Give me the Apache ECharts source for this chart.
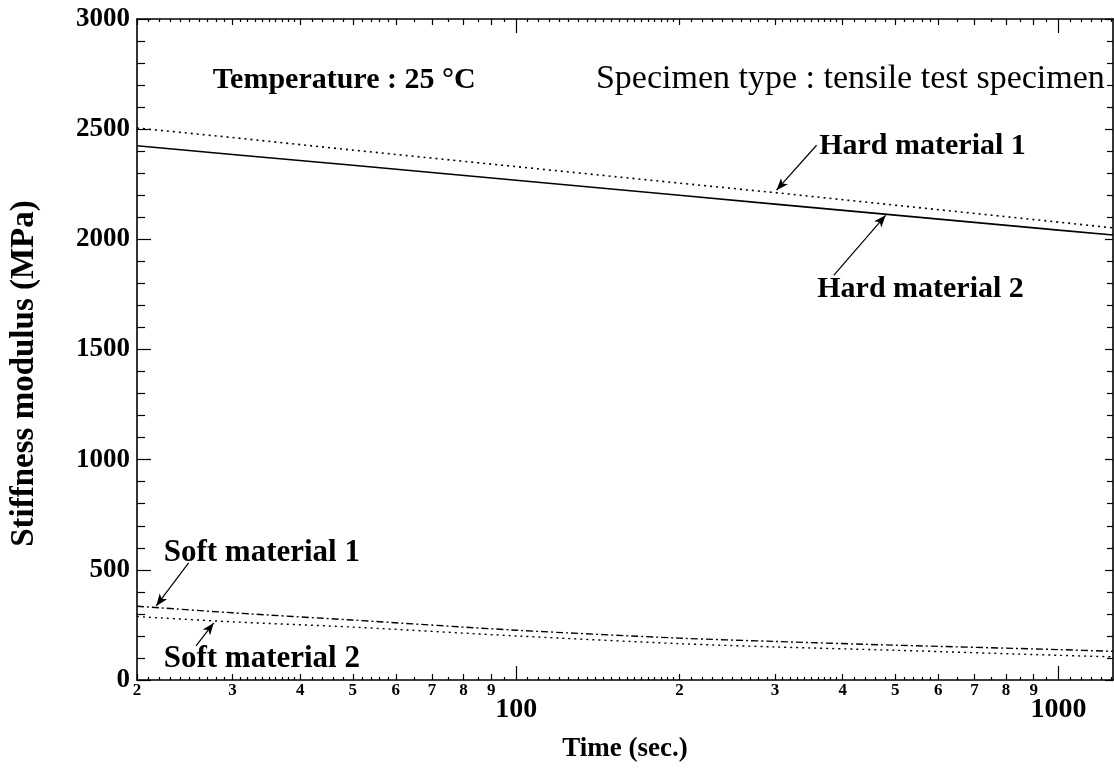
<!DOCTYPE html>
<html><head><meta charset="utf-8">
<script src="https://cdn.jsdelivr.net/npm/echarts@6/dist/echarts.min.js"></script>
<style>html,body{margin:0;padding:0;background:#fff}#c{width:1114px;height:770px}</style>
</head><body><div id="c"></div>
<script>
// ---- data ----
const times = [20, 30, 50, 100, 200, 300, 500, 1000, 1260];
const hard1 = [2505, 2462, 2405, 2330, 2255, 2212, 2155, 2078, 2052];
const hard2 = [2425, 2385, 2336, 2268, 2200, 2160, 2110, 2042, 2020];
const soft1 = [335, 305, 272, 226, 190, 175, 158, 138, 130];
const soft2 = [288, 264, 240, 200, 165, 150, 135, 112, 105];
const seriesNames = ['Hard material 1', 'Hard material 2', 'Soft material 1', 'Soft material 2'];
const digitTicks = [20, 30, 40, 50, 60, 70, 80, 90, 200, 300, 400, 500, 600, 700, 800, 900];
const decadeTicks = [100, 1000];
const minorRanges = [[20, 40, 1], [40, 60, 2], [60, 100, 5], [100, 200, 5], [200, 400, 10], [400, 600, 20], [600, 1000, 50], [1000, 1260, 50]];
const yTickLabels = [0, 500, 1000, 1500, 2000, 2500, 3000];
const xMin = 20, xMax = 1260;

const FONT = "'Liberation Serif','Times New Roman',serif";
const L = Math.log10;
const minorTicks = [];
minorRanges.forEach(([a, b, s]) => {
  for (let v = a + s; v < b; v += s) {
    if (digitTicks.indexOf(v) < 0 && decadeTicks.indexOf(v) < 0) minorTicks.push(v);
  }
});

function tickAxis(pos, values, len, label) {
  return {
    type: 'value', position: pos, gridIndex: 0, min: L(xMin), max: L(xMax),
    axisLine: { show: false }, splitLine: { show: false },
    axisTick: { show: true, inside: true, length: len, customValues: values.map(L),
      lineStyle: { color: '#000', width: 1.2 } },
    axisLabel: label ? Object.assign({ show: true, customValues: values.map(L),
      color: '#000', fontFamily: FONT, fontWeight: 'bold' }, label) : { show: false }
  };
}

const xAxes = [
  { type: 'log', logBase: 10, position: 'bottom', min: xMin, max: xMax,
    axisLine: { show: true, onZero: false, lineStyle: { color: '#000', width: 1.6 } },
    axisTick: { show: false }, axisLabel: { show: false }, splitLine: { show: false },
    name: 'Time (sec.)', nameLocation: 'middle', nameGap: 56,
    nameTextStyle: { fontFamily: FONT, fontWeight: 'bold', fontSize: 27, color: '#000' } },
  tickAxis('bottom', minorTicks, 3, null),
  tickAxis('bottom', digitTicks, 6, { fontSize: 17, margin: 2,
    formatter: v => String(Math.round(Math.pow(10, v) / Math.pow(10, Math.floor(v + 1e-9)))) }),
  tickAxis('bottom', decadeTicks, 14, { fontSize: 28, margin: 16,
    formatter: v => String(Math.round(Math.pow(10, v))) }),
  Object.assign(tickAxis('top', minorTicks, 3, null),
    { axisLine: { show: true, onZero: false, lineStyle: { color: '#000', width: 1.6 } } }),
  tickAxis('top', digitTicks, 6, null),
  tickAxis('top', decadeTicks, 14, null)
];

const yAxes = [
  { type: 'value', position: 'left', min: 0, max: 3000, interval: 500,
    axisLine: { show: true, onZero: false, lineStyle: { color: '#000', width: 1.6 } },
    axisTick: { show: true, inside: true, length: 14, lineStyle: { color: '#000', width: 1.2 } },
    minorTick: { show: true, splitNumber: 5, length: 8, lineStyle: { color: '#000', width: 1.2 } },
    splitLine: { show: false },
    axisLabel: { color: '#000', fontFamily: FONT, fontWeight: 'bold', fontSize: 27, margin: 7,
      customValues: yTickLabels, formatter: v => String(v) },
    name: 'Stiffness modulus (MPa)', nameLocation: 'middle', nameGap: 96, nameRotate: 90,
    nameTextStyle: { fontFamily: FONT, fontWeight: 'bold', fontSize: 33, color: '#000',
      padding: [0, 48, 0, 0] } },
  { type: 'value', position: 'right', min: 0, max: 3000, interval: 500,
    axisLine: { show: true, onZero: false, lineStyle: { color: '#000', width: 1.6 } },
    axisTick: { show: true, inside: true, length: 8, lineStyle: { color: '#000', width: 1.2 } },
    minorTick: { show: true, splitNumber: 5, length: 6, lineStyle: { color: '#000', width: 1.2 } },
    splitLine: { show: false }, axisLabel: { show: false } }
];

function txt(coord, text, align, size, weight) {
  return { coord: coord, value: text, symbol: 'circle', symbolSize: 0,
    label: { show: true, position: 'inside', formatter: text, align: align, verticalAlign: 'middle',
      fontSize: size, fontWeight: weight, fontFamily: FONT, color: '#000' } };
}
function arrow(from, to) {
  return [{ coord: from }, { coord: to }];
}

const pair = arr => times.map((t, i) => [t, arr[i]]);

const option = {
  animation: false,
  backgroundColor: '#fff',
  grid: { left: 137, right: 1, top: 19, bottom: 90, containLabel: false },
  xAxis: xAxes,
  yAxis: yAxes,
  series: [
    { name: seriesNames[0], type: 'line', xAxisIndex: 0, yAxisIndex: 0, data: pair(hard1), symbol: 'none',
      lineStyle: { color: '#000', width: 1.6, type: [2, 4] } },
    { name: seriesNames[1], type: 'line', xAxisIndex: 0, yAxisIndex: 0, data: pair(hard2), symbol: 'none',
      lineStyle: { color: '#000', width: 1.6, type: 'solid' },
      markLine: { silent: true, symbol: ['none', 'arrow'], symbolSize: [7, 12], label: { show: false },
        lineStyle: { color: '#000', width: 1.2, type: 'solid' },
        data: [
          arrow([358, 2427], [302, 2223]),
          arrow([385, 1836], [480, 2109]),
          arrow([24.9, 532], [21.7, 336]),
          arrow([25.7, 155], [27.7, 259])
        ] },
      markPoint: { silent: true, data: [
        txt([48.2, 2723], 'Temperature : 25 °C', 'center', 30, 'bold'),
        txt([1217, 2727], 'Specimen type : tensile test specimen', 'right', 34, 'normal'),
        txt([362, 2423], seriesNames[0], 'left', 30, 'bold'),
        txt([359, 1773], seriesNames[1], 'left', 30, 'bold'),
        txt([22.4, 577], seriesNames[2], 'left', 31, 'bold'),
        txt([22.4, 95], seriesNames[3], 'left', 31, 'bold')
      ] } },
    { name: seriesNames[2], type: 'line', xAxisIndex: 0, yAxisIndex: 0, data: pair(soft1), symbol: 'none', smooth: 0.3,
      lineStyle: { color: '#000', width: 1.4, type: [7, 3, 2, 3] } },
    { name: seriesNames[3], type: 'line', xAxisIndex: 0, yAxisIndex: 0, data: pair(soft2), symbol: 'none', smooth: 0.3,
      lineStyle: { color: '#000', width: 1.4, type: [2, 4] } }
  ]
};

const chart = echarts.init(document.getElementById('c'), null, { renderer: 'canvas' });
chart.setOption(option);
</script>
</body></html>
